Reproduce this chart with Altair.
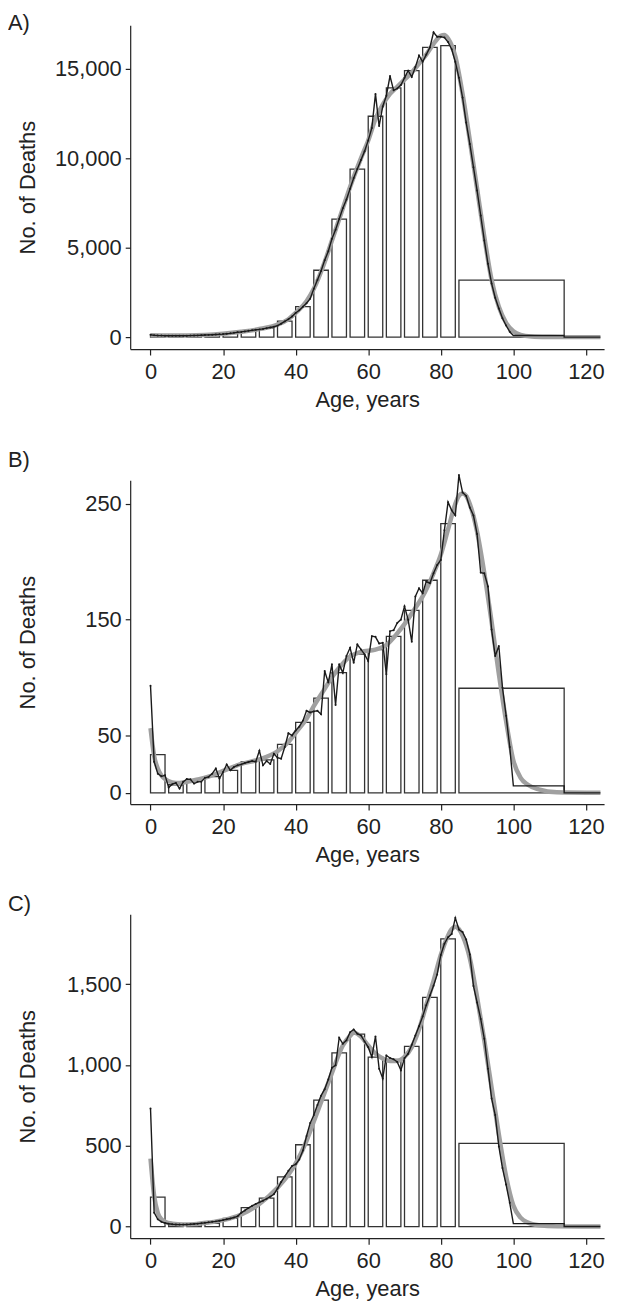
import altair as alt
import pandas as pd

FONT = "Liberation Sans"
INK = "#222222"

# single-year ages 0..99
ages = list(range(100))

# ---- Panel A: single-year deaths ----
a_line = [130, 100, 90, 85, 80, 80, 78, 76, 76, 78,
          80, 84, 88, 95, 105, 115, 125, 135, 145, 155,
          170, 190, 210, 240, 270, 290, 320, 350, 380, 410,
          430, 460, 500, 540, 580, 640, 750, 880, 1000, 1150,
          1350, 1500, 1700, 1900, 2150, 2700, 3200, 3700, 4300, 4800,
          5500, 6000, 6600, 7200, 7700, 8300, 8900, 9400, 9900, 10400,
          11000, 11700, 13600, 11800, 12900, 13500, 14600, 13800, 13900, 14100,
          14500, 14900, 14550, 15100, 15750, 15400, 15800, 16200, 17050, 16800,
          16800, 16750, 16500, 16100, 15400, 14500, 13400, 12000, 10800, 9500,
          8200, 6800, 5400, 4100, 3000, 2200, 1600, 1050, 650, 300]
a_tail = 90
a_smooth_age = [0, 5, 10, 15, 20, 25, 30, 35, 38, 40, 43, 45, 48, 50, 53, 55, 58, 60, 62, 64,
                66, 68, 70, 72, 74, 76, 78, 80, 81, 82, 84, 86, 88, 90, 92, 94, 96, 98, 100,
                102, 105, 110, 114, 124]
a_smooth = [100, 85, 90, 120, 190, 300, 450, 700, 1000, 1350, 2000, 2700, 4200, 5400, 7200,
            8400, 10000, 11000, 12200, 13000, 13600, 14000, 14400, 14800, 15300, 15800, 16400,
            16850, 16900, 16700, 15700, 13600, 11000, 8300, 5600, 3200, 1700, 800, 330,
            130, 40, 8, 0, 0]
a_bars = [100, 80, 90, 135, 220, 350, 500, 890, 1700, 3740, 6600, 9390, 12350, 13940,
          14900, 16200, 16300, 3190]

# ---- Panel B ----
b_line = [92.6, 27, 16.6, 14.3, 15.2, 4.6, 7.5, 8.6, 3.7, 9.5,
          12, 11.7, 8, 9.5, 9.7, 13, 13.8, 16.6, 21, 12.3,
          18, 24.6, 19.5, 22.4, 23.8, 24.6, 25.8, 26.7, 27.5, 27,
          36.5, 23.8, 27.5, 25, 33.8, 30.4, 29.5, 39.6, 51.6, 49.6,
          53.9, 57.3, 62.5, 71, 69.6, 70.5, 71, 68, 105.5, 95.4,
          111.2, 76, 111.2, 104, 118.4, 125.5, 112.6, 128.4, 124.1, 119.8,
          114, 135.6, 135, 129.3, 129.8, 102.6, 139.9, 140.7, 147, 149.9,
          161.4, 149.9, 130.7, 170, 177, 172.8, 182.9, 181.4, 190, 197.2,
          201.5, 227.3, 251.6, 244.5, 240.2, 275, 260, 257, 247, 240,
          224, 190.6, 190, 178.6, 141.3, 118.4, 127, 91, 66.8, 39.6]
b_tail = 6
b_smooth_age = [0, 1, 2, 3, 4, 6, 8, 10, 13, 16, 20, 25, 30, 35, 38, 40, 43, 45, 48, 50, 53,
                55, 58, 62, 65, 68, 70, 73, 75, 78, 80, 82, 84, 85, 86, 87, 88, 90, 92, 94,
                96, 98, 100, 102, 104, 107, 112, 124]
b_smooth = [56, 32, 21, 15, 12, 9, 8.5, 9.5, 11.5, 14, 19, 25, 29, 36, 44, 52, 64, 75, 90,
            100, 112, 118, 122, 124, 128, 138, 146, 160, 170, 190, 206, 228, 250, 257, 259,
            257, 250, 226, 190, 148, 103, 62, 28, 13, 7, 3, 0.5, 0]
b_bars = [33, 7, 10, 14, 19.5, 27, 28.5, 42, 61, 82, 104, 120, 124, 135.5, 158, 184, 233, 90.5]

# ---- Panel C ----
c_line = [731, 86, 45, 29, 22, 17, 14, 13, 12, 12,
          13, 14, 16, 18, 20, 23, 26, 29, 32, 36,
          40, 45, 50, 56, 63, 85, 100, 115, 128, 140,
          150, 160, 172, 185, 200, 235, 275, 310, 345, 375,
          385, 415, 470, 560, 640, 690, 752, 810, 850, 910,
          983, 998, 1168, 1131, 1152, 1203, 1219, 1193, 1183, 1145,
          1110, 1049, 1176, 977, 916, 1059, 1043, 1035, 1018, 967,
          1043, 1069, 1125, 1182, 1240, 1300, 1370, 1430, 1490, 1560,
          1680, 1750, 1790, 1810, 1910, 1838, 1822, 1776, 1684, 1489,
          1387, 1285, 1162, 977, 793, 690, 496, 362, 260, 147]
c_tail = 18
c_smooth_age = [0, 1, 2, 3, 4, 6, 9, 12, 16, 20, 25, 30, 35, 38, 40, 43, 45, 48, 50, 53, 55,
                56, 58, 60, 62, 64, 66, 68, 70, 72, 74, 76, 78, 80, 82, 83, 84, 85, 86, 88,
                90, 92, 94, 96, 98, 100, 102, 104, 107, 112, 124]
c_smooth = [420, 190, 85, 45, 30, 18, 13, 15, 25, 40, 75, 140, 240, 320, 390, 530, 650, 830,
            950, 1120, 1180, 1200, 1175, 1120, 1070, 1040, 1025, 1025, 1050, 1110, 1220, 1370,
            1520, 1680, 1800, 1840, 1855, 1840, 1800, 1660, 1420, 1150, 860, 570, 310, 130,
            55, 25, 8, 1, 0]
c_bars = [182, 10, 12, 20, 51, 117, 176, 307, 506, 782, 1074, 1190, 1048, 1035, 1115, 1418,
          1780, 515]

# age groups: 0-4, 5-9, ..., 80-84, 85+
bin_start = list(range(0, 85, 5)) + [85]
bin_end = [s + 4 for s in range(0, 85, 5)] + [114]

x_ticks = [0, 20, 40, 60, 80, 100, 120]
W, H = 477, 326
FS = 22


def panel(label, line_vals, tail, s_age, s_vals, bar_vals, ydom, yticks, title_off, spacer=None):
    xs = alt.Scale(domain=[-5.6, 125], nice=False, zero=False)
    ys = alt.Scale(domain=ydom, nice=False, zero=False)
    xax = alt.Axis(values=x_ticks, title="Age, years", tickSize=6, labelPadding=7,
                   titlePadding=7, labelFlush=False)
    yax = alt.Axis(values=yticks, format=",.0f", title="No. of Deaths", tickSize=5,
                   labelPadding=4, titleX=-91, titleY=H / 2)

    def X(f):
        return alt.X(f, type="quantitative", scale=xs, axis=xax)

    def Y(f):
        return alt.Y(f, type="quantitative", scale=ys, axis=yax)

    bars_df = pd.DataFrame({"start": bin_start, "end": bin_end, "v": bar_vals})
    lx = ages + [100, 114, 114, 124]
    ly = line_vals + [tail, tail, 0, 0]
    line_df = pd.DataFrame({"age": lx, "v": ly, "i": list(range(len(lx)))})
    pts_df = pd.DataFrame({"age": ages, "v": line_vals})
    sm_df = pd.DataFrame({"age": s_age, "v": s_vals})

    bars = alt.Chart(bars_df).mark_rect(fill="white", stroke="#333333", strokeWidth=1.3).encode(
        x=X("start"), x2="end", y=Y("v"), y2=alt.datum(0))
    smooth = alt.Chart(sm_df).mark_line(color="#a0a0a0", strokeWidth=4.5,
                                        interpolate="monotone").encode(x=X("age"), y=Y("v"))
    line = alt.Chart(line_df).mark_line(color="#1a1a1a", strokeWidth=1.4).encode(
        x=X("age"), y=Y("v"), order=alt.Order("i:Q"))
    pts = alt.Chart(pts_df).mark_circle(color="#1a1a1a", size=4, opacity=1).encode(
        x=X("age"), y=Y("v"))
    layers = [bars, smooth, line, pts]
    if spacer is not None:
        sp = alt.Chart(pd.DataFrame({"k": [0]})).mark_text(
            text=".", color="white", baseline="bottom", fontSize=20).encode(
            x=alt.value(0), y=alt.value(H + spacer))
        layers.append(sp)
    return alt.layer(*layers).properties(
        width=W, height=H,
        title=alt.Title(label, anchor="start", frame="group", dx=-123, offset=title_off,
                        fontSize=22, font=FONT, fontWeight="normal", color=INK,
                        baseline="bottom"))


pa = panel("A)", a_line, a_tail, a_smooth_age, a_smooth, a_bars, [-667, 17444],
           [0, 5000, 10000, 15000], -32, spacer=73)
pb = panel("B)", b_line, b_tail, b_smooth_age, b_smooth, b_bars, [-9.7, 270.6],
           [0, 50, 150, 250], -22)
pc = panel("C)", c_line, c_tail, c_smooth_age, c_smooth, c_bars, [-72, 1932],
           [0, 500, 1000, 1500], -24)

chart = alt.vconcat(pa, pb, pc, spacing=28).properties(
    padding={"left": 0, "top": 0, "right": 5, "bottom": 5}
).configure_view(stroke=None).configure_axis(
    labelFont=FONT, titleFont=FONT, labelFontSize=FS, titleFontSize=FS,
    titleFontWeight="normal", labelColor=INK, titleColor=INK, domainColor=INK,
    tickColor=INK, domainWidth=1.2, tickWidth=1.2, grid=False
)

chart.save("out.html", embed_options={"renderer": "svg", "actions": False})
